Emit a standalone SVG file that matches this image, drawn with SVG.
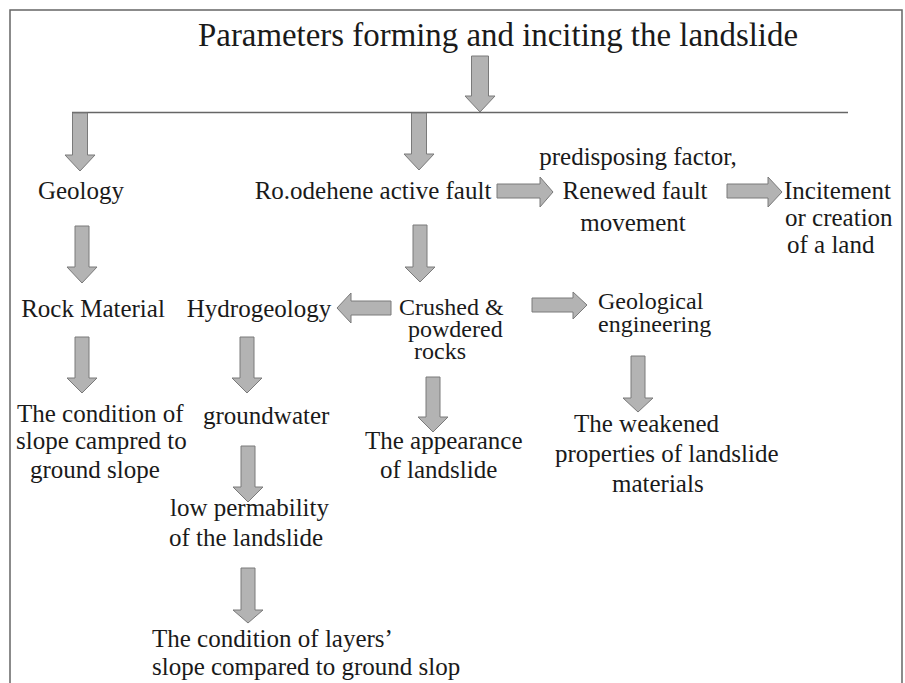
<svg xmlns="http://www.w3.org/2000/svg" width="905" height="683" viewBox="0 0 905 683">
<style>
text{font-family:'Liberation Serif',Tinos,'Times New Roman',Times,serif;font-size:25px;fill:#1a1a1a}
.t{font-size:33px}
.s{font-size:24px}
.ar{fill:#b3b3b3;stroke:#7a7a7a;stroke-width:1}
.ln{stroke:#666;stroke-width:1.5;fill:none}
</style>
<rect width="905" height="683" fill="#fff"/>
<path class="ln" d="M10,683 V10 H902 V683"/>
<g id="title"><text class="t" x="198" y="46" textLength="600" lengthAdjust="spacingAndGlyphs">Parameters forming and inciting the landslide</text></g>
<g id="connectors">
<path class="ln" d="M72,112.5 H848"/>
<polygon class="ar" points="471.5,56 488.5,56 488.5,96 495,96 480,112 465,96 471.5,96"/>
<polygon class="ar" points="72.5,113 87.5,113 87.5,155 95,155 80,171 65,155 72.5,155"/>
<polygon class="ar" points="411.5,113 426.5,113 426.5,154 434,154 419,170 404,154 411.5,154"/>
<polygon class="ar" points="75,226 89,226 89,267 97,267 82,283 67,267 75,267"/>
<polygon class="ar" points="413,225 427,225 427,267 435,267 420,282 405,267 413,267"/>
<polygon class="ar" points="75,337 89,337 89,378 97,378 82,393 67,378 75,378"/>
<polygon class="ar" points="240,337 254,337 254,378 262,378 247,393 232,378 240,378"/>
<polygon class="ar" points="241,446 255,446 255,487 263,487 248,502 233,487 241,487"/>
<polygon class="ar" points="241,568 255,568 255,610 263,610 248,623 233,610 241,610"/>
<polygon class="ar" points="426,377 440,377 440,417 448,417 433,432 418,417 426,417"/>
<polygon class="ar" points="631,356 645,356 645,398 653,398 638,412 623,398 631,398"/>
<polygon class="ar" points="497,184 540,184 540,177 553,192 540,207 540,198 497,198"/>
<polygon class="ar" points="727,184 768,184 768,177 782,192 768,207 768,198 727,198"/>
<polygon class="ar" points="391,301 351,301 351,293 337,308 351,323 351,315 391,315"/>
<polygon class="ar" points="532,298 573,298 573,292 587,305 573,319 573,312 532,312"/>
</g>
<g id="geology"><text x="81" y="199" text-anchor="middle">Geology</text></g>
<g id="fault"><text x="373" y="199" text-anchor="middle">Ro.odehene active fault</text></g>
<g id="renewed">
<text x="638" y="165" text-anchor="middle">predisposing factor,</text>
<text x="635" y="199" text-anchor="middle">Renewed fault</text>
<text x="633" y="231" text-anchor="middle">movement</text>
</g>
<g id="incitement">
<text x="784" y="199">Incitement</text>
<text x="785" y="226">or creation</text>
<text x="787" y="253">of a land</text>
</g>
<g id="rock"><text x="93" y="317" text-anchor="middle">Rock Material</text></g>
<g id="hydro"><text x="259" y="317" text-anchor="middle">Hydrogeology</text></g>
<g id="crushed">
<text class="s" x="399" y="315">Crushed &amp;</text>
<text class="s" x="408" y="337">powdered</text>
<text class="s" x="414" y="359">rocks</text>
</g>
<g id="geoeng">
<text class="s" x="598" y="309">Geological</text>
<text class="s" x="598" y="332">engineering</text>
</g>
<g id="condition">
<text x="17" y="422">The condition of</text>
<text x="16" y="449">slope campred to</text>
<text x="30" y="478">ground slope</text>
</g>
<g id="groundwater"><text x="203" y="424">groundwater</text></g>
<g id="lowperm">
<text x="170" y="516">low permability</text>
<text x="169" y="546">of the landslide</text>
</g>
<g id="layers">
<text x="152" y="647">The condition of layers’</text>
<text x="152" y="675">slope compared to ground slop</text>
</g>
<g id="appearance">
<text x="365" y="449">The appearance</text>
<text x="380" y="478">of landslide</text>
</g>
<g id="weakened">
<text x="574" y="432">The weakened</text>
<text x="555" y="462">properties of landslide</text>
<text x="612" y="492">materials</text>
</g>
</svg>
